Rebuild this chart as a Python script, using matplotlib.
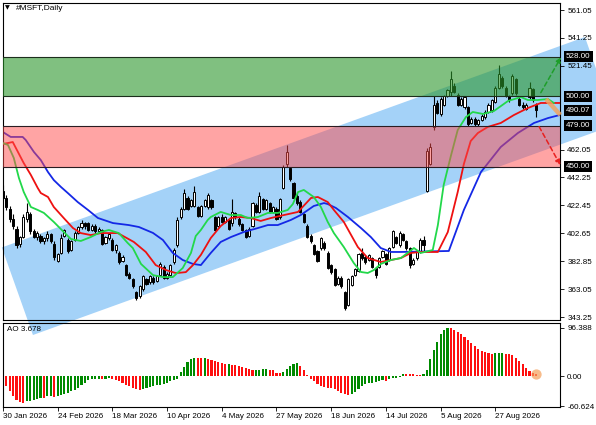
import numpy as np
import matplotlib
matplotlib.use('Agg')
import matplotlib.pyplot as plt
import matplotlib.transforms as mtransforms
from matplotlib.patches import Polygon

plt.rcParams['font.family'] = ['Liberation Sans', 'DejaVu Sans']
plt.rcParams['font.size'] = 5.8

# Velas diarias #MSFT
opens = [433, 428, 420, 413, 406, 395, 400, 413, 416, 404,
         400, 401, 397, 399, 402, 395, 383, 389, 401, 398,
         391, 398, 403, 407, 410, 410, 405, 408, 404, 405,
         396, 399, 398, 391, 389, 383, 380, 374, 370, 361,
         358, 363, 370, 368, 371, 369, 373, 379, 371, 373,
         382, 394, 414, 420, 428, 422, 422, 421, 415, 422,
         421, 426, 414, 408, 414, 411, 412, 410, 417, 413,
         409, 405, 401, 408, 423, 418, 427, 420, 424, 418,
         420, 414, 435, 452, 449, 438, 429, 425, 416, 408,
         401, 394, 390, 392, 396, 389, 380, 377, 367, 371,
         361, 352, 366, 373, 376, 389, 386, 384, 385, 378,
         379, 386, 388, 384, 393, 400, 394, 402, 397, 392,
         381, 385, 390, 398, 433, 452, 478, 495, 487, 494,
         500, 503, 507, 501, 494, 492, 492, 481, 484, 480,
         483, 485, 489, 490, 496, 506, 513, 506, 500, 502,
         512, 498, 494, 491, 499, 505, 494]
highs = [437, 430, 422, 416, 408, 401, 416, 424, 418, 406,
         404, 402, 400, 404, 403, 397, 389, 402, 406, 399,
         398, 404, 408, 412, 411, 411, 409, 409, 407, 406,
         401, 403, 399, 395, 390, 387, 381, 375, 371, 362,
         366, 373, 371, 373, 372, 373, 382, 380, 375, 381,
         392, 414, 421, 434, 429, 427, 436, 422, 423, 427,
         431, 427, 415, 415, 416, 415, 413, 427, 418, 414,
         410, 406, 407, 425, 424, 432, 428, 427, 425, 422,
         421, 428, 451, 465, 450, 439, 432, 426, 417, 409,
         402, 395, 391, 400, 397, 390, 381, 378, 372, 372,
         362, 371, 373, 378, 389, 392, 387, 388, 386, 379,
         386, 391, 389, 393, 405, 401, 404, 403, 398, 393,
         385, 391, 399, 401, 463, 467, 500, 497, 499, 501,
         505, 518, 509, 502, 499, 500, 493, 485, 485, 484,
         487, 490, 495, 498, 507, 522, 514, 507, 501, 516,
         513, 499, 496, 495, 510, 506, 495]
lows = [426, 419, 411, 406, 392, 393, 399, 411, 402, 399,
        398, 396, 395, 397, 396, 384, 382, 388, 400, 389,
        390, 397, 402, 406, 406, 404, 404, 403, 403, 394,
        395, 398, 390, 389, 381, 382, 372, 370, 364, 355,
        357, 362, 366, 367, 367, 368, 372, 370, 370, 372,
        381, 393, 413, 419, 419, 421, 421, 414, 414, 421,
        420, 420, 404, 407, 410, 410, 405, 408, 413, 408,
        404, 399, 400, 407, 417, 417, 419, 419, 417, 417,
        412, 413, 434, 450, 440, 426, 423, 417, 410, 399,
        396, 387, 382, 391, 391, 377, 374, 365, 366, 364,
        348, 351, 365, 372, 375, 384, 381, 383, 378, 371,
        378, 385, 380, 383, 392, 395, 393, 397, 391, 378,
        380, 384, 389, 390, 432, 451, 476, 487, 486, 493,
        499, 500, 502, 493, 493, 491, 479, 480, 479, 479,
        482, 484, 488, 489, 495, 505, 506, 499, 496, 501,
        501, 493, 491, 490, 498, 496, 485]
closes = [428, 421, 413, 408, 394, 400, 414, 418, 404, 400,
          403, 397, 399, 402, 397, 386, 388, 399, 405, 390,
          397, 403, 407, 410, 408, 405, 408, 404, 406, 395,
          400, 402, 391, 394, 382, 386, 373, 371, 365, 357,
          365, 372, 367, 372, 368, 372, 381, 371, 374, 380,
          391, 412, 420, 431, 420, 426, 432, 415, 422, 426,
          430, 421, 405, 414, 411, 414, 406, 418, 414, 409,
          405, 400, 406, 424, 418, 429, 420, 426, 418, 421,
          413, 427, 450, 460, 441, 428, 424, 418, 411, 400,
          397, 388, 383, 399, 392, 378, 375, 366, 371, 365,
          350, 370, 372, 377, 388, 385, 382, 387, 379, 373,
          385, 390, 381, 392, 404, 396, 403, 398, 392, 380,
          384, 390, 398, 394, 461, 464, 494, 488, 498, 500,
          504, 512, 503, 494, 498, 499, 480, 484, 480, 483,
          486, 489, 494, 497, 506, 516, 507, 500, 497, 514,
          502, 494, 492, 494, 506, 497, 490.07]

# Alligator (mandibula, dentes, labios): indice da barra e preco
jaw_x = [0, 2.3, 5.8, 6.7, 9.1, 11.1, 13.2, 14.9, 17.0, 19.0, 21.9, 24.9, 27.8,
         32.2, 36.8, 39.8, 43.9, 46.8, 49.7, 52.6, 55.6, 57.9, 60.8, 63.7, 66.7,
         70.5, 74.6, 77.5, 80.4, 84.2, 87.1, 90.9, 93.9, 95.0, 97.4, 100.9, 104.7,
         107.6, 110.5, 113.5, 116.4, 130.4, 134.8, 139.8, 145.6, 150.6, 155.3,
         159.4, 162.9]
jaw_y = [474.5, 471.0, 471.0, 468.8, 460.3, 454.6, 446.1, 440.4, 435.5, 431.2,
         424.8, 419.2, 413.5, 409.9, 408.5, 407.1, 402.9, 397.9, 388.7, 383.7,
         380.9, 380.1, 388.7, 396.5, 400.0, 403.6, 406.4, 408.5, 408.5, 412.1,
         415.6, 422.0, 424.1, 423.4, 420.6, 414.2, 406.4, 400.0, 392.2, 389.4,
         389.4, 390.1, 419.2, 446.1, 463.9, 473.8, 480.9, 484.4, 486.6]
teeth_x = [0, 1.5, 2.9, 3.8, 6.1, 8.2, 10.2, 11.1, 13.2, 14.9, 17.8, 20.5, 22.8,
           25.7, 28.7, 33.6, 38.3, 41.8, 44.7, 47.7, 50.6, 53.5, 55.6, 57.9, 60.8,
           63.7, 66.7, 69.6, 72.5, 75.4, 78.4, 82.2, 86.3, 90.1, 92.1, 95.0, 96.8,
           99.7, 103.8, 106.7, 110.5, 113.5, 116.4, 119.3, 122.2, 127.2, 130.1,
           133.0, 134.8, 136.8, 138.9, 141.8, 145.6, 149.4, 153.5, 157.3, 162.9]
teeth_y = [466.0, 466.7, 467.4, 463.2, 452.5, 444.0, 434.8, 431.2, 428.4, 421.3,
           413.5, 406.4, 402.8, 401.4, 402.8, 402.8, 396.5, 389.4, 380.1, 376.6,
           374.4, 375.1, 380.1, 387.3, 399.3, 407.8, 413.5, 414.2, 413.5, 411.4,
           413.5, 415.6, 417.8, 427.7, 428.4, 424.8, 419.2, 410.7, 392.9, 385.1,
           382.3, 383.7, 385.1, 388.7, 389.4, 389.4, 403.5, 431.9, 451.8, 468.1,
           473.8, 478.1, 480.9, 486.5, 491.5, 495.1, 495.1]
lips_x = [0, 1.5, 3.2, 4.7, 6.1, 8.2, 10.2, 12.0, 14.9, 17.8, 19.9, 22.8, 25.7,
          28.7, 31.0, 33.9, 36.5, 38.0, 40.4, 43.9, 46.8, 49.7, 52.6, 55.0, 56.4,
          57.9, 59.9, 60.8, 63.7, 66.7, 69.6, 71.6, 74.6, 77.5, 80.4, 83.3, 84.8,
          86.3, 88.0, 90.9, 93.0, 95.0, 96.8, 99.7, 102.6, 104.7, 106.7, 108.5,
          110.5, 113.5, 116.4, 120.2, 122.2, 125.7, 127.2, 128.9, 131.0, 133.0,
          135.4, 137.4, 140.4, 143.6, 147.7, 151.5, 153.5, 156.4, 159.4, 161.1]
lips_y = [466.7, 465.3, 456.1, 441.9, 432.0, 421.3, 419.2, 417.1, 410.7, 403.6,
          398.6, 397.2, 400.0, 403.6, 405.0, 402.8, 395.8, 392.2, 380.9, 373.0,
          371.6, 371.6, 378.0, 388.7, 400.7, 405.0, 412.1, 414.2, 417.8, 415.6,
          415.6, 413.5, 414.2, 417.1, 417.1, 419.2, 423.4, 431.9, 433.4, 428.4,
          421.3, 410.7, 402.8, 392.9, 381.6, 375.2, 374.5, 376.6, 380.9, 383.7,
          385.1, 392.2, 388.7, 390.8, 408.5, 436.9, 457.5, 475.9, 485.1, 488.7,
          487.3, 489.4, 496.5, 499.3, 497.2, 497.2, 497.9, 495.1]

# Awesome Oscillator, uma barra por vela
ao_values = [-11, -21, -31, -41, -48, -53, -55, -51, -50, -48,
             -46, -44, -45, -41, -40, -42, -40, -38, -37, -35,
             -31, -28, -25, -18, -15, -8, -7, -6, -5, -7,
             -5, -3, -5, -8, -11, -15, -18, -21, -25, -27,
             -28, -26, -25, -23, -21, -19, -18, -16, -15, -11,
             -8, -5, 9, 19, 29, 34, 37, 36, 35.5, 36.2,
             35, 33, 30, 29, 27, 24, 24.5, 22, 21.5, 21,
             19, 17, 14, 12, 12.5, 13, 14, 15, 13, 12,
             7, 6.5, 9, 15, 21, 24, 26,
             20, 12, 2, -6, -11, -16, -20, -22, -24, -25,
             -27, -30, -34, -37, -39, -37, -32, -26, -21, -17,
             -15, -14, -12, -10, -9, -10, -6, -4, -3, -1,
             5, 4, 3.6, 3.3, 3, 2.8, 4, 13, 35, 52,
             68, 84, 93, 96.388, 95.5, 93, 89, 84, 79, 73,
             66, 60, 55, 51, 48, 46, 44, 45.5, 46.5, 47,
             45, 44, 42, 37, 30, 24, 17, 10, 7, 3.678]

# eixos e niveis
date_idx = [0, 16, 32, 48, 64, 80, 96, 112, 128, 144]
date_labels = ['30 Jan 2026', '24 Feb 2026', '18 Mar 2026', '10 Apr 2026', '4 May 2026',
               '27 May 2026', '18 Jun 2026', '14 Jul 2026', '5 Aug 2026', '27 Aug 2026']
# 501.65 e 481.85 ficam escondidos atras das etiquetas dos niveis
price_ticks = [561.05, 541.25, 521.45, 462.05, 442.25, 422.45,
               402.65, 382.85, 363.05, 343.25]
ao_ticks = [96.388, 0.0, -60.624]
ao_tick_labels = ['96.388', '0.00', '-60.624']
buy_zone = [500.0, 528.0]
sell_zone = [450.0, 479.0]
last_price = 490.07
ao_last = 3.678

# canal ascendente (cantos)
channel_x = [-0.3, 170.2, 179.2, 8.8]
channel_y = [392.6, 541.9, 479.8, 330.5]

# setas de cenario
up_arrow = [(157.3, 502.4), (163.2, 527.5)]
down_arrow = [(156.8, 478.3), (163.0, 451.1)]
forecast = [(158.8, 497.9), (163.0, 486.6)]

W, H = 596, 425
fig = plt.figure(figsize=(W / 100, H / 100), dpi=100)
fig.patch.set_facecolor('white')
ax1 = fig.add_axes([2.5 / W, 1 - 320 / H, 557.5 / W, 317 / H])
ax2 = fig.add_axes([2.5 / W, 1 - 407 / H, 557.5 / W, 84 / H])
ax2.set_facecolor('none')

xmax = -0.1 + 557.5 / 3.42
for ax in (ax1, ax2):
    ax.set_xlim(-0.1, xmax)
    for s in ax.spines.values():
        s.set_color('black')
        s.set_linewidth(0.8)
ax1.set_ylim(341.14, 566.02)
ax2.set_ylim(-62.2, 106.4)

# canal (sai do painel, como no MT4)
ax1.add_patch(Polygon(list(zip(channel_x, channel_y)), closed=True, facecolor='#a4d2f8',
                      edgecolor='none', zorder=0.5, clip_on=False))

# velas
o = np.array(opens, dtype=float)
c = np.array(closes, dtype=float)
h = np.array(highs, dtype=float)
l = np.array(lows, dtype=float)
idx = np.arange(len(c))
top = np.maximum(o, c)
bot = np.minimum(o, c)
ax1.vlines(idx, top, h, color='black', lw=0.8, zorder=2)
ax1.vlines(idx, l, bot, color='black', lw=0.8, zorder=2)
ax1.bar(idx, top - bot, bottom=bot, width=0.62,
        color=np.where(c >= o, 'white', 'black'), edgecolor='black', linewidth=0.7, zorder=2.1)

# Alligator
ax1.plot(jaw_x, jaw_y, color='#1428e6', lw=1.3, zorder=2.5)
ax1.plot(teeth_x, teeth_y, color='#ee1111', lw=1.3, zorder=2.6)
ax1.plot(lips_x, lips_y, color='#22d84a', lw=1.3, zorder=2.7)

# zonas de compra / venda
ax1.axhspan(buy_zone[0], buy_zone[1], facecolor=(43 / 255, 150 / 255, 43 / 255), alpha=0.6, lw=0, zorder=3)
ax1.axhspan(sell_zone[0], sell_zone[1], facecolor=(1.0, 75 / 255, 75 / 255), alpha=0.5, lw=0, zorder=3)
for v in buy_zone:
    ax1.axhline(v, color='#1c2e1c', lw=0.8, zorder=3.5)
for v in sell_zone:
    ax1.axhline(v, color='#2a1c22', lw=0.8, zorder=3.5)

# setas
ax1.annotate('', xy=up_arrow[1], xytext=up_arrow[0], annotation_clip=False, zorder=5,
             arrowprops=dict(arrowstyle='-|>,head_length=0.5,head_width=0.25', color='#1e9e2a',
                             lw=1.1, linestyle=(0, (3, 2)), shrinkA=0, shrinkB=0))
ax1.annotate('', xy=down_arrow[1], xytext=down_arrow[0], annotation_clip=False, zorder=5,
             arrowprops=dict(arrowstyle='-|>,head_length=0.5,head_width=0.25', color='#e82020',
                             lw=1.1, linestyle=(0, (3, 2)), shrinkA=0, shrinkB=0))
ax1.plot([p[0] for p in forecast], [p[1] for p in forecast], color='#f2a35e', lw=3.2,
         alpha=0.85, solid_capstyle='butt', clip_on=False, zorder=4)

# escala de precos a direita
ax1.yaxis.tick_right()
ax1.set_yticks(price_ticks)
ax1.set_yticklabels([f'{v:.2f}' for v in price_ticks])
ax1.tick_params(axis='y', right=True, left=False, length=3, width=0.6, pad=2.2, labelsize=5.8)
ax1.tick_params(axis='x', bottom=False, labelbottom=False)

trans = mtransforms.blended_transform_factory(ax1.transAxes, ax1.transData)
for v in [buy_zone[1], buy_zone[0], last_price, sell_zone[1], sell_zone[0]]:
    ax1.text(1.0108, v, f'{v:.2f}', transform=trans, color='white', va='center', ha='left',
             fontsize=5.8, clip_on=False, zorder=6,
             bbox=dict(boxstyle='square,pad=0.25', fc='black', ec='none'))

ax1.text(0.0045, 0.993, '\u25bc', transform=ax1.transAxes, va='top', ha='left',
         fontsize=4.5, family='DejaVu Sans')
ax1.text(0.0242, 0.993, '#MSFT,Daily', transform=ax1.transAxes, va='top', ha='left', fontsize=6)

# AO
ao = np.array(ao_values, dtype=float)
prev = np.concatenate([[ao[0] + 1], ao[:-1]])
ao_colors = np.where(ao > prev, '#008a00', '#ff0f0f')
ax2.bar(np.arange(len(ao)), ao, width=0.62, color=ao_colors, lw=0, zorder=2)
ax2.scatter([len(ao) - 1], [ao_last], s=55, color='#f5a05a', alpha=0.7, zorder=5, clip_on=False, lw=0)
ax2.text(0.008, 0.965, f'AO {ao_last}', transform=ax2.transAxes, va='top', ha='left', fontsize=5.8)

ax2.yaxis.tick_right()
ax2.set_yticks(ao_ticks)
ax2.set_yticklabels(ao_tick_labels)
ax2.tick_params(axis='y', right=True, left=False, length=3, width=0.6, pad=2.2, labelsize=5.8)
ax2.set_xticks(date_idx)
ax2.set_xticklabels(date_labels, ha='left')
ax2.tick_params(axis='x', length=3, width=0.6, pad=1, labelsize=5.8)

plt.savefig('out.png', dpi=100, facecolor='white')
